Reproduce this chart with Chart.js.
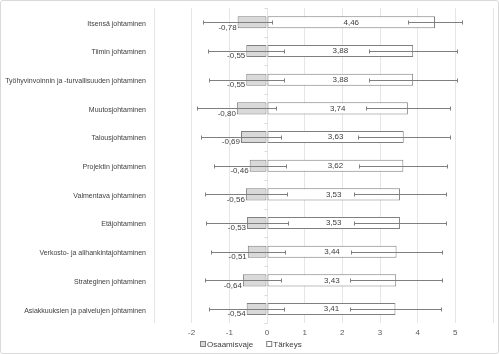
<!DOCTYPE html>
<html>
<head>
<meta charset="utf-8">
<script src="https://cdn.jsdelivr.net/npm/chart.js@4.4.1/dist/chart.umd.min.js"></script>
<style>
  body { margin: 0; background: #fff; }
  #wrap { width: 497px; height: 352px; border: 1px solid #d9d9d9; border-radius: 3px; }
</style>
</head>
<body>
<div id="wrap"><canvas id="myChart" width="497" height="352"></canvas></div>
<script>
const kategoriat = [
    'Itsensä johtaminen',
    'Tiimin johtaminen',
    'Työhyvinvoinnin ja -turvallisuuden johtaminen',
    'Muutosjohtaminen',
    'Talousjohtaminen',
    'Projektin johtaminen',
    'Valmentava johtaminen',
    'Etäjohtaminen',
    'Verkosto- ja alihankintajohtaminen',
    'Strateginen johtaminen',
    'Asiakkuuksien ja palvelujen johtaminen'
];
const osaamisvaje = [-0.78, -0.55, -0.55, -0.80, -0.69, -0.46, -0.56, -0.53, -0.51, -0.64, -0.54];
const osaamisvajeVirhe = [0.92, 1.01, 0.99, 1.05, 1.07, 0.96, 1.09, 1.08, 0.98, 1.01, 1.00];
const tarkeys = [4.46, 3.88, 3.88, 3.74, 3.63, 3.62, 3.53, 3.53, 3.44, 3.43, 3.41];
const tarkeysVirhe = [0.71, 1.17, 1.17, 1.12, 1.22, 1.17, 1.23, 1.22, 1.20, 1.22, 1.20];
const xTicks = [-3, -2, -1, 0, 1, 2, 3, 4, 5, 6];
const naytettavat = [-2, -1, 0, 1, 2, 3, 4, 5];

const ctx = document.getElementById('myChart');
const fontti = 'Liberation Sans, Arial, sans-serif';

// pienet jakoviivat nolla-akselille
const nollaAkseli = {
    id: 'nollaAkseli',
    beforeDatasetsDraw(chart) {
        const c = chart.ctx;
        const x0 = Math.round(chart.scales.x.getPixelForValue(0)) + 0.5;
        const y = chart.scales.y;
        const puoli = (y.getPixelForValue(1) - y.getPixelForValue(0)) / 2;
        c.save();
        c.strokeStyle = '#d9d9d9';
        c.lineWidth = 1;
        c.beginPath();
        for (let i = 0; i <= kategoriat.length; i++) {
            const yy = Math.round(y.getPixelForValue(i) - puoli) + 0.5;
            c.moveTo(x0 - 3, yy); c.lineTo(x0, yy);
        }
        c.stroke();
        c.restore();
    }
};

// virhepalkit + arvot
const virhePalkit = {
    id: 'virhePalkit',
    afterDatasetsDraw(chart) {
        const c = chart.ctx;
        const x = chart.scales.x;
        const virheet = [osaamisvajeVirhe, tarkeysVirhe];
        c.save();
        chart.data.datasets.forEach((ds, i) => {
            const meta = chart.getDatasetMeta(i);
            meta.data.forEach((bar, j) => {
                const v = ds.data[j];
                const e = virheet[i][j];
                const x1 = Math.round(x.getPixelForValue(v - e)) + 0.5;
                const x2 = Math.round(x.getPixelForValue(v + e)) + 0.5;
                const y = Math.round(bar.y) + 0.5;
                c.strokeStyle = '#7f7f7f';
                c.lineWidth = 1;
                c.beginPath();
                c.moveTo(x1, y); c.lineTo(x2, y);
                c.moveTo(x1, y - 2); c.lineTo(x1, y + 2);
                c.moveTo(x2, y - 2); c.lineTo(x2, y + 2);
                c.stroke();
            });
        });
        c.font = '8px ' + fontti;
        c.fillStyle = '#404040';
        const m0 = chart.getDatasetMeta(0);
        m0.data.forEach((bar, j) => {
            c.textAlign = 'right';
            c.textBaseline = 'middle';
            c.fillText(osaamisvaje[j].toFixed(2).replace('.', ','), bar.x - 1, bar.y + 5);
        });
        const m1 = chart.getDatasetMeta(1);
        m1.data.forEach((bar, j) => {
            c.textAlign = 'center';
            c.textBaseline = 'middle';
            c.fillText(tarkeys[j].toFixed(2).replace('.', ','), (bar.x + bar.base) / 2, bar.y);
        });
        c.restore();
    }
};

// selite alas
const selite = {
    id: 'selite',
    afterDraw(chart) {
        const c = chart.ctx;
        const ds = chart.data.datasets;
        c.save();
        c.font = '8px ' + fontti;
        c.textBaseline = 'middle';
        c.textAlign = 'left';
        const laatikko = 5, vali = 1, erotin = 14;
        const leveydet = ds.map(d => laatikko + vali + c.measureText(d.label).width);
        const koko = leveydet.reduce((a, b) => a + b, 0) + erotin * (ds.length - 1);
        let xx = Math.round(chart.width / 2 + 1 - koko / 2);
        const yy = 343;
        ds.forEach((d, i) => {
            c.fillStyle = d.backgroundColor;
            c.fillRect(xx + 0.5, yy - 2.5, laatikko, laatikko);
            c.strokeStyle = d.borderColor;
            c.lineWidth = 1;
            c.strokeRect(xx + 0.5, yy - 2.5, laatikko, laatikko);
            c.fillStyle = '#404040';
            c.fillText(d.label, xx + laatikko + vali + 1, yy + 0.5);
            xx += leveydet[i] + erotin;
        });
        c.restore();
    }
};

new Chart(ctx, {
    type: 'bar',
    data: {
        labels: kategoriat,
        datasets: [{
            label: 'Osaamisvaje',
            data: osaamisvaje,
            backgroundColor: '#d9d9d9',
            borderColor: '#7f7f7f',
            borderWidth: 1,
            borderSkipped: false,
            grouped: false,
            categoryPercentage: 1,
            barPercentage: 0.42
        }, {
            label: 'Tärkeys',
            data: tarkeys,
            backgroundColor: '#ffffff',
            borderColor: '#7f7f7f',
            borderWidth: 1,
            borderSkipped: false,
            grouped: false,
            categoryPercentage: 1,
            barPercentage: 0.42
        }]
    },
    options: {
        indexAxis: 'y',
        responsive: false,
        animation: false,
        layout: { padding: { top: 7, right: 4, left: 0, bottom: 10 } },
        plugins: {
            tooltip: { enabled: false },
            legend: { display: false }
        },
        scales: {
            x: {
                min: -3,
                max: 6,
                afterBuildTicks: (axis) => { axis.ticks = xTicks.map(v => ({ value: v })); },
                ticks: {
                    color: '#595959',
                    font: { size: 8, family: fontti },
                    padding: 5,
                    maxRotation: 0,
                    callback: (v) => naytettavat.includes(v) ? String(v) : ''
                },
                grid: { color: '#e6e6e6', drawTicks: false },
                border: { display: false }
            },
            y: {
                afterFit: (axis) => { axis.width = 153; },
                ticks: {
                    color: '#404040',
                    font: { size: 7, family: fontti },
                    padding: 0,
                    labelOffset: 1.5
                },
                grid: { display: false },
                border: { display: false }
            }
        }
    },
    plugins: [nollaAkseli, virhePalkit, selite]
});
</script>
</body>
</html>
